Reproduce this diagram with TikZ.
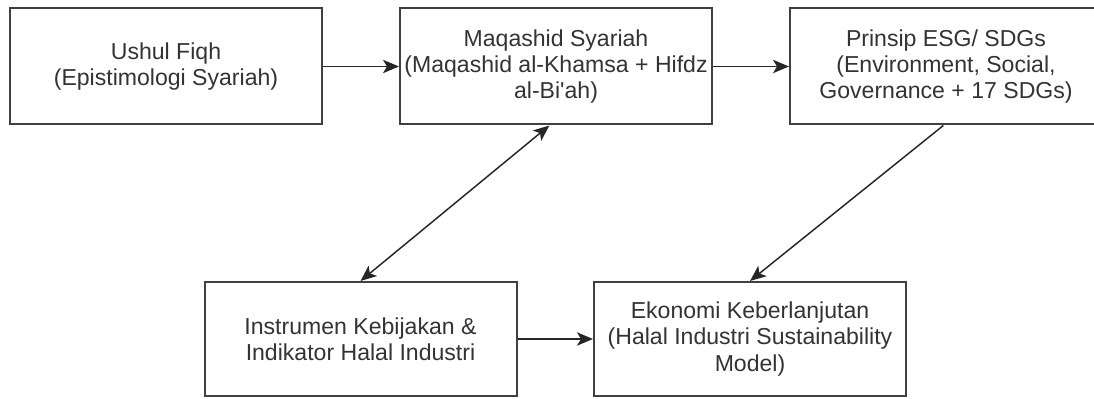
\documentclass[tikz,border=0pt]{standalone}
\usepackage{fontspec}
\setmainfont{Liberation Sans}
\usetikzlibrary{arrows.meta}
\begin{document}
\begin{tikzpicture}[x=0.75pt,y=-0.75pt,
  box/.style={draw=black!75, line width=1.5pt, minimum width=234pt, minimum height=87pt,
    inner sep=0pt, align=center, text=black!80,
    font=\fontsize{17.3pt}{19.8pt}\selectfont},
  tip/.tip={Stealth[length=12pt,width=10pt,inset=3pt]},
  conn/.style={draw=black!85, line width=1.1pt, -tip},
  conn2/.style={draw=black!85, line width=1.1pt, tip-tip}]
\useasboundingbox (0,0) rectangle (1094,399);
\clip (0,0) rectangle (1094,399);
\node[box] (ushul) at (166,66.5) {Ushul Fiqh\\(Epistimologi Syariah)};
\node[box] (maq) at (556,66.5) {Maqashid Syariah\\(Maqashid al-Khamsa + Hifdz\\al-Bi\textquotesingle ah)};
\node[box] (esg) at (946,66.5) {Prinsip ESG/ SDGs\\(Environment, Social,\\Governance + 17 SDGs)};
\node[box, minimum height=85.5pt] (inst) at (360.5,339) {Instrumen Kebijakan \&\\Indikator Halal Industri};
\node[box, minimum height=85.5pt] (eko) at (750,339) {Ekonomi Keberlanjutan\\(Halal Industri Sustainability\\Model)};
\draw[conn] (ushul.east) -- (maq.west);
\draw[conn] (maq.east) -- (esg.west);
\draw[conn] (inst.east) -- (eko.west);
\draw[conn2] (inst.north) -- ([xshift=-5pt]maq.south);
\draw[conn] ([xshift=-2pt]esg.south) -- (eko.north);
\end{tikzpicture}
\end{document}
